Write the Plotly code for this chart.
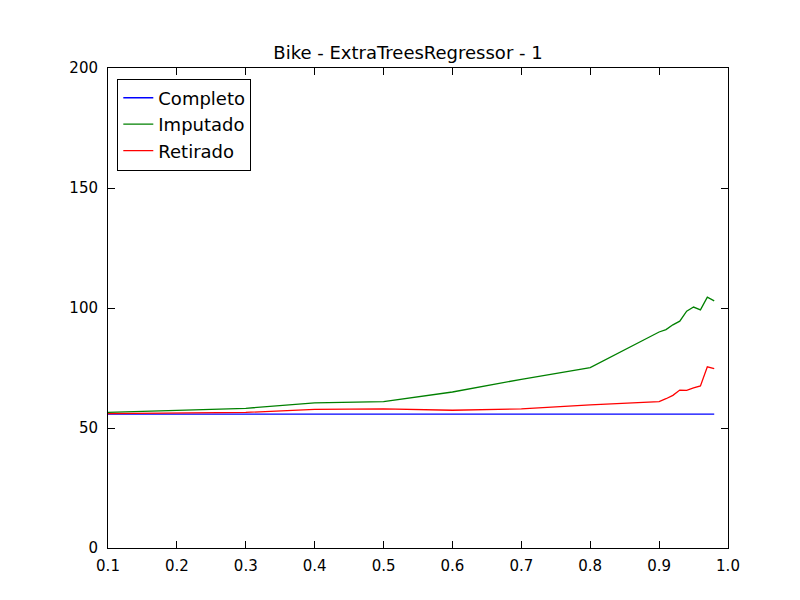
import plotly.graph_objects as go

x = [0.1, 0.2, 0.3, 0.4, 0.5, 0.6, 0.7, 0.8, 0.9, 0.91, 0.92, 0.93, 0.94, 0.95, 0.96, 0.97, 0.98]
completo = [55.8] * len(x)
imputado = [56.5, 57.3, 58.2, 60.5, 61.0, 65.0, 70.3, 75.2, 90.0, 91.0, 93.0, 94.5, 98.7, 100.4, 99.2, 104.5, 103.0]
retirado = [56.0, 56.3, 56.5, 57.8, 58.0, 57.4, 58.0, 59.6, 61.0, 62.2, 63.6, 65.8, 65.7, 66.7, 67.5, 75.5, 74.7]

fig = go.Figure()
fig.add_trace(go.Scatter(x=x, y=completo, mode="lines", name="Completo", line=dict(color="blue", width=1.3)))
fig.add_trace(go.Scatter(x=x, y=imputado, mode="lines", name="Imputado", line=dict(color="green", width=1.3)))
fig.add_trace(go.Scatter(x=x, y=retirado, mode="lines", name="Retirado", line=dict(color="red", width=1.3)))

axis = dict(showgrid=False, zeroline=False, showline=True, linecolor="black", linewidth=1,
            mirror="allticks", ticks="inside", ticklen=7, tickcolor="black", automargin=False,
            tickfont=dict(size=15, color="black"))
fig.update_layout(
    width=800, height=600,
    paper_bgcolor="white", plot_bgcolor="white",
    font=dict(family="DejaVu Sans", color="black"),
    margin=dict(l=100, r=80, t=60, b=60, autoexpand=False),
    title=dict(text="Bike - ExtraTreesRegressor - 1", x=0.5, xanchor="center", y=0.915, yanchor="bottom",
               font=dict(size=18)),
    xaxis=dict(range=[0.1, 1.0], tickvals=[0.1, 0.2, 0.3, 0.4, 0.5, 0.6, 0.7, 0.8, 0.9, 1.0],
               ticktext=["0.1", "0.2", "0.3", "0.4", "0.5", "0.6", "0.7", "0.8", "0.9", "1.0"],
               ticklabelstandoff=4, **axis),
    yaxis=dict(range=[0, 200], tickvals=[0, 50, 100, 150, 200], ticklabelstandoff=6, **axis),
    legend=dict(x=0.015, y=0.978, xanchor="left", yanchor="top", bordercolor="black", borderwidth=1,
                bgcolor="white", font=dict(size=18), tracegroupgap=2),
)

fig.write_html("out.html")
